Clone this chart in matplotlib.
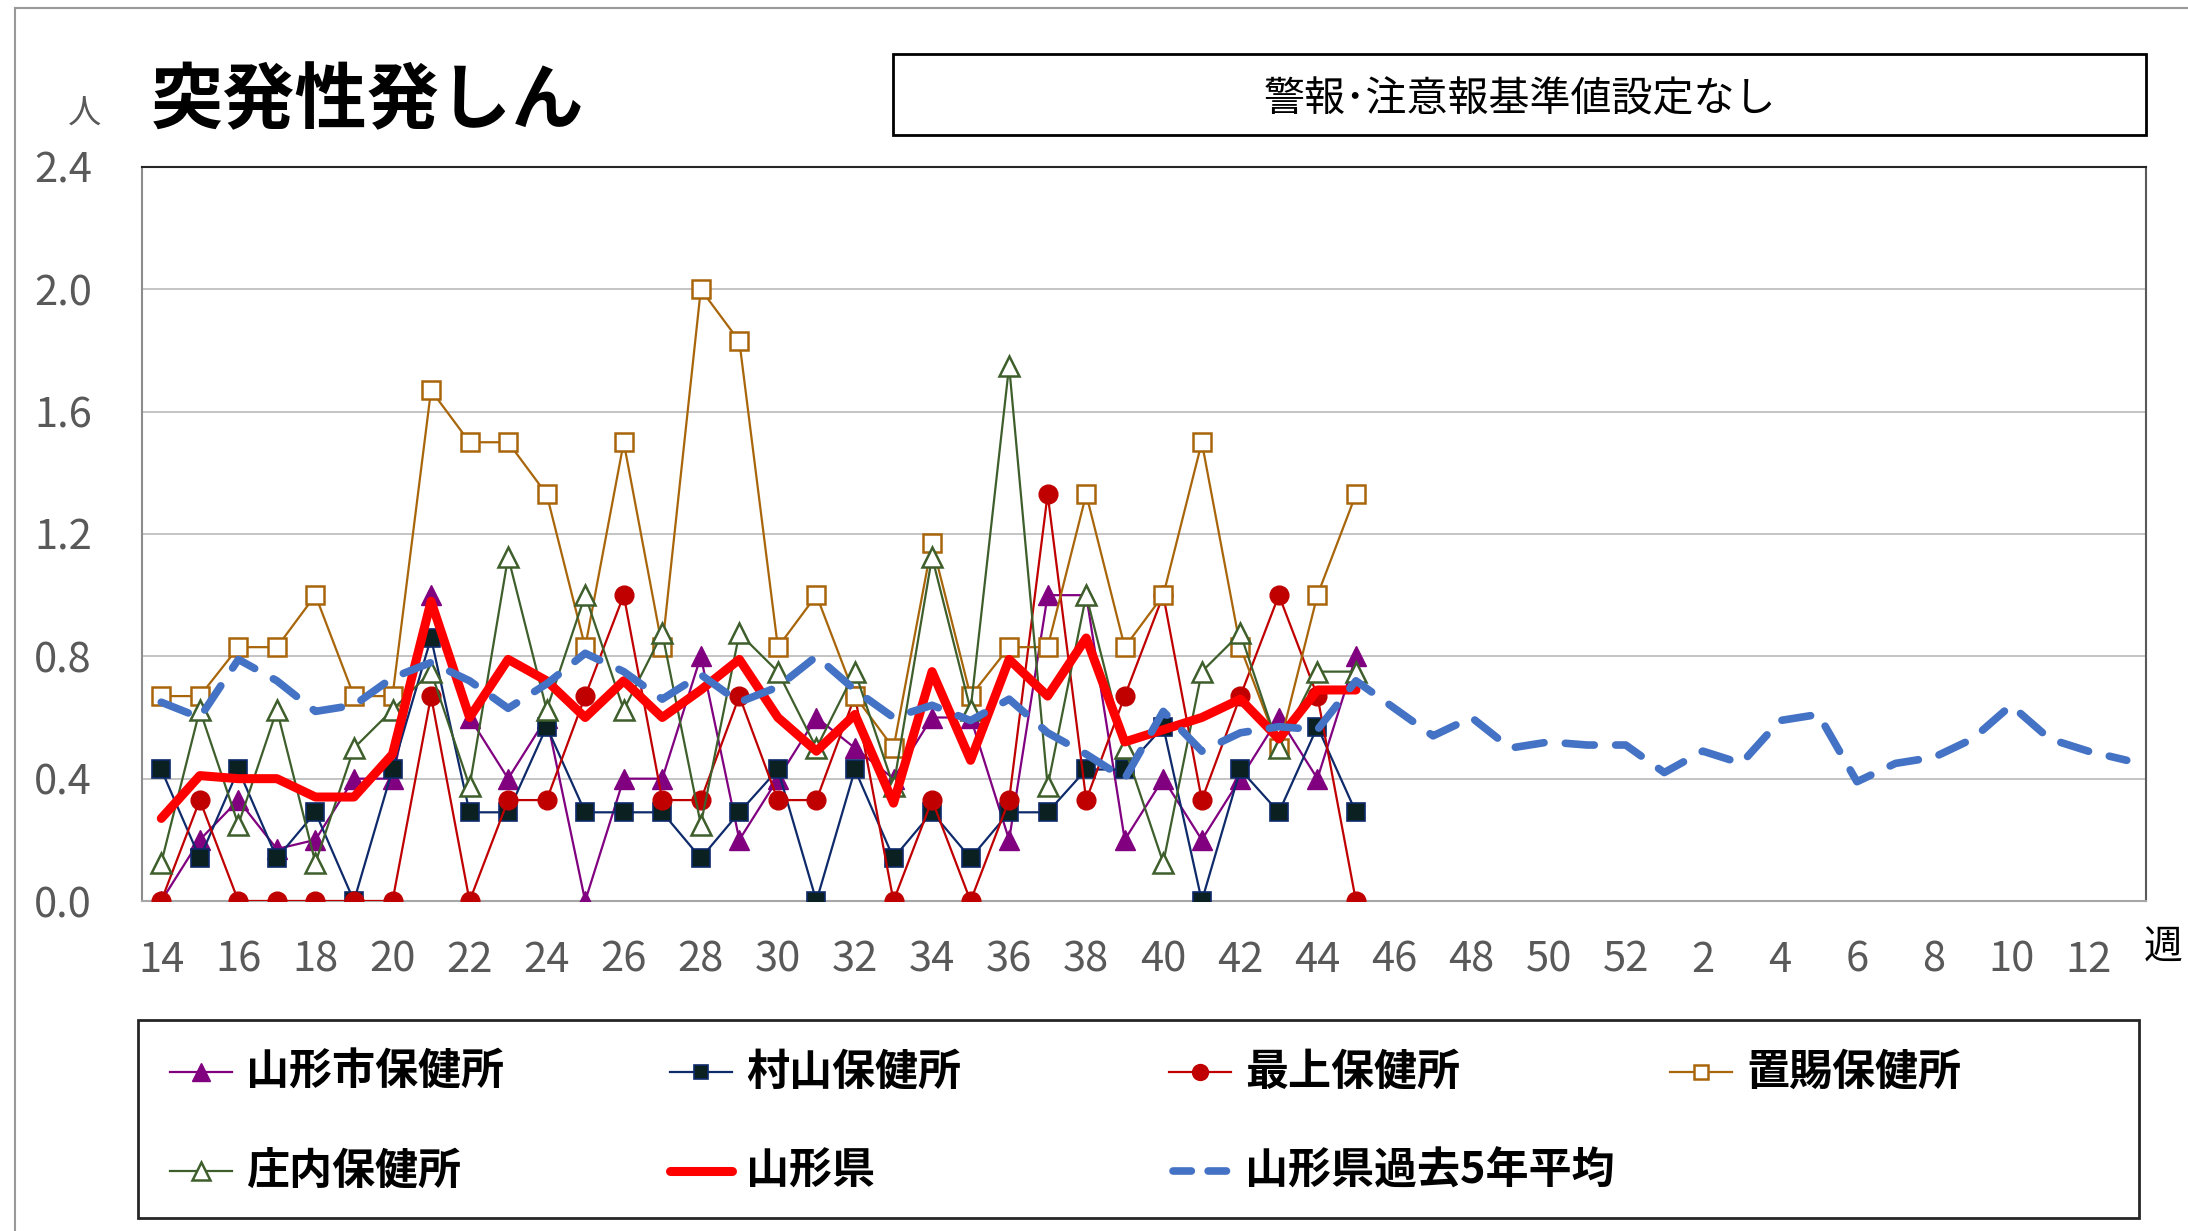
import matplotlib
matplotlib.use("Agg")
import matplotlib.pyplot as plt
from matplotlib.lines import Line2D
from matplotlib.patches import Rectangle
import numpy as np

plt.rcParams['font.family'] = ['Noto Sans CJK JP', 'DejaVu Sans']

# ---- data ----
weeks = list(range(14, 53)) + list(range(1, 14))
yamagata_city = [0, 0.2, 0.33, 0.17, 0.2, 0.4, 0.4, 1.0, 0.6, 0.4, 0.6, 0, 0.4, 0.4, 0.8, 0.2,
                 0.4, 0.6, 0.5, 0.4, 0.6, 0.6, 0.2, 1.0, 1.0, 0.2, 0.4, 0.2, 0.4, 0.6, 0.4, 0.8]
murayama = [0.43, 0.14, 0.43, 0.14, 0.29, 0, 0.43, 0.86, 0.29, 0.29, 0.57, 0.29, 0.29, 0.29, 0.14, 0.29,
            0.43, 0, 0.43, 0.14, 0.29, 0.14, 0.29, 0.29, 0.43, 0.43, 0.57, 0, 0.43, 0.29, 0.57, 0.29]
mogami = [0, 0.33, 0, 0, 0, 0, 0, 0.67, 0, 0.33, 0.33, 0.67, 1.0, 0.33, 0.33, 0.67,
          0.33, 0.33, 0.67, 0, 0.33, 0, 0.33, 1.33, 0.33, 0.67, 1.0, 0.33, 0.67, 1.0, 0.67, 0]
okitama = [0.67, 0.67, 0.83, 0.83, 1.0, 0.67, 0.67, 1.67, 1.5, 1.5, 1.33, 0.83, 1.5, 0.83, 2.0, 1.83,
           0.83, 1.0, 0.67, 0.5, 1.17, 0.67, 0.83, 0.83, 1.33, 0.83, 1.0, 1.5, 0.83, 0.5, 1.0, 1.33]
shonai = [0.125, 0.625, 0.25, 0.625, 0.125, 0.5, 0.625, 0.75, 0.375, 1.125, 0.625, 1.0, 0.625, 0.875, 0.25, 0.875,
          0.75, 0.5, 0.75, 0.375, 1.125, 0.625, 1.75, 0.375, 1.0, 0.5, 0.125, 0.75, 0.875, 0.5, 0.75, 0.75]
prefecture = [0.27, 0.41, 0.40, 0.40, 0.34, 0.34, 0.48, 0.98, 0.60, 0.79, 0.72, 0.60, 0.72, 0.60, 0.69, 0.79,
              0.60, 0.49, 0.61, 0.32, 0.75, 0.46, 0.79, 0.67, 0.86, 0.52, 0.56, 0.60, 0.66, 0.53, 0.69, 0.69]
past5 = [0.65, 0.60, 0.79, 0.72, 0.62, 0.64, 0.73, 0.78, 0.72, 0.63, 0.71, 0.81, 0.75, 0.66, 0.74, 0.65,
         0.70, 0.80, 0.69, 0.60, 0.64, 0.59, 0.66, 0.55, 0.48, 0.40, 0.62, 0.49, 0.55, 0.57, 0.56, 0.72,
         0.63, 0.54, 0.60, 0.50, 0.52, 0.51, 0.51, 0.42, 0.49, 0.45, 0.59, 0.61, 0.39, 0.45, 0.47, 0.53,
         0.64, 0.53, 0.49, 0.46]
series_names = ['山形市保健所', '村山保健所', '最上保健所', '置賜保健所', '庄内保健所', '山形県', '山形県過去5年平均']
title = '突発性発しん'
note = '警報･注意報基準値設定なし'

W, H = 2188, 1231
fig = plt.figure(figsize=(W / 100, H / 100), dpi=100)
ax = fig.add_axes([142 / W, 1 - 901 / H, (2146 - 142) / W, (901 - 167) / H])

x_all = np.arange(len(weeks))
x_cur = np.arange(len(yamagata_city))

styles = [
    dict(color='#800080', marker='^', ms=15, mfc='#800080', mec='#800080', lw=1.6),
    dict(color='#0E2A6B', marker='s', ms=12.5, mfc='#0B2020', mec='#0E2A6B', mew=1.2, lw=1.6),
    dict(color='#C00000', marker='o', ms=13.5, mfc='#C00000', mec='#C00000', lw=1.6),
    dict(color='#A8650A', marker='s', ms=12.5, mfc='white', mec='#A8650A', mew=1.8, lw=1.6),
    dict(color='#3E5F2C', marker='^', ms=15, mfc='white', mec='#3E5F2C', mew=1.8, lw=1.6),
]
station_data = [yamagata_city, murayama, mogami, okitama, shonai]
for i, (d, st) in enumerate(zip(station_data, styles)):
    ax.plot(x_cur, d, zorder=3 + i, **st)

ax.plot(x_cur, prefecture, color='#FF0000', lw=6.5, solid_capstyle='round', solid_joinstyle='round', zorder=10)
l5, = ax.plot(x_all, past5, color='#4472C4', lw=5.5, dash_capstyle='round', zorder=11)
l5.set_dashes((3.8, 2.8))

ax.set_xlim(-0.5, len(weeks) - 0.5)
ax.set_ylim(0, 2.4)
ax.set_yticks(np.arange(0, 2.41, 0.4))
ax.set_yticklabels([f'{v:.1f}' for v in np.arange(0, 2.41, 0.4)])
ax.set_xticks(x_all[::2])
ax.set_xticklabels([str(w) for w in weeks[::2]])
ax.tick_params(axis='both', length=0, labelsize=30, labelcolor='#595959')
ax.tick_params(axis='y', pad=36)
ax.tick_params(axis='x', pad=28)
ax.grid(axis='y', color='#BFBFBF', lw=1.3, zorder=0)
ax.set_axisbelow(True)
ax.spines['top'].set_color('#262626')
ax.spines['right'].set_color('#595959')
ax.spines['left'].set_color('#8C8C8C')
ax.spines['bottom'].set_color('#A6A6A6')
for s in ax.spines.values():
    s.set_linewidth(1.5)

# outer frame lines
fig.add_artist(Line2D([15 / W, 15 / W], [0, 1 - 8 / H], transform=fig.transFigure, color='#999999', lw=1.5))
fig.add_artist(Line2D([15 / W, 1], [1 - 8 / H, 1 - 8 / H], transform=fig.transFigure, color='#999999', lw=1.5))

# title & unit
fig.text(151 / W, 1 - 102 / H, title, fontsize=52, fontweight='bold', ha='left', va='center', color='black')
fig.text(85 / W, 1 - 114 / H, '人', fontsize=24, ha='center', va='center', color='#595959')
fig.text(2163 / W, 1 - 948 / H, '週', fontsize=28, ha='center', va='center', color='black')

# note box
fig.add_artist(Rectangle((893 / W, 1 - 135 / H), (2146 - 893) / W, (135 - 54) / H,
                         transform=fig.transFigure, fill=False, ec='black', lw=2))
fig.text(1520 / W, 1 - 100 / H, note, fontsize=29.5, ha='center', va='center', color='black')

# legend box
fig.add_artist(Rectangle((138 / W, 1 - 1218 / H), (2139 - 138) / W, (1218 - 1020) / H,
                         transform=fig.transFigure, fill=False, ec='#262626', lw=2))
col_x = [170, 670, 1169, 1670]
row_y = [1072, 1171]
pos = [(0, 0), (1, 0), (2, 0), (3, 0), (0, 1), (1, 1), (2, 1)]
for idx, name in enumerate(series_names):
    c, r = pos[idx]
    x0 = col_x[c] / W
    x1 = (col_x[c] + 62) / W
    y = 1 - row_y[r] / H
    if idx < 5:
        st = dict(styles[idx])
        st['ms'] = st['ms'] * 0.85
        fig.add_artist(Line2D([x0, (x0 + x1) / 2, x1], [y, y, y], transform=fig.transFigure,
                              markevery=[1], **st))
    elif idx == 5:
        fig.add_artist(Line2D([x0, x1], [y, y], transform=fig.transFigure, color='#FF0000', lw=6.5,
                              solid_capstyle='round'))
    else:
        ln = Line2D([x0 + 4 / W, x1 + 6 / W], [y, y], transform=fig.transFigure, color='#4472C4', lw=5.5,
                    dash_capstyle='round')
        ln.set_dashes((2.4, 2.2))
        fig.add_artist(ln)
    fig.text((col_x[c] + 76) / W, y, name, fontsize=31, fontweight='bold', ha='left', va='center', color='black')

fig.savefig('out.png', dpi=100)
